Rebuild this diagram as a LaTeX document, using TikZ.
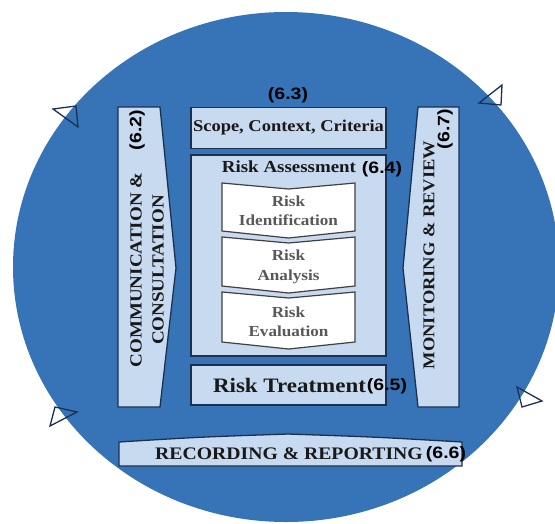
\documentclass[tikz,border=0pt]{standalone}
\usepackage{fontspec}
\newfontfamily\cam[FakeStretch=1.12]{Liberation Serif}
\newfontfamily\lab[FakeStretch=1.18]{Liberation Sans}
\definecolor{disc}{RGB}{54,116,183}
\definecolor{pale}{RGB}{199,218,240}
\definecolor{edge}{RGB}{28,48,80}
\definecolor{chevtext}{RGB}{88,88,88}
\tikzset{
  panel/.style={draw=edge, line width=1.3pt, fill=pale, inner sep=0pt},
  chev/.style={draw=black!75, line width=1.2pt, fill=white, line join=miter},
  serif/.style={font=\cam\bfseries\fontsize{16.5}{19}\selectfont, text=black!90, inner sep=0pt},
  tag/.style={font=\lab\bfseries\fontsize{16.5}{18}\selectfont, text=black, inner sep=0pt},
  chevlabel/.style={font=\cam\bfseries\fontsize{15.3}{19.5}\selectfont, text=chevtext, align=center, inner sep=0pt},
  marker/.style={draw=edge, line width=1.3pt, line join=miter}
}
\begin{document}
\begin{tikzpicture}[x=1pt,y=-1pt]
\useasboundingbox (0,0) rectangle (555,523);
\fill[white] (0,0) rectangle (555,523);
\begin{scope}
  \clip (0,0) rectangle (555,523);
  \fill[disc] (286,267) ellipse [x radius=273, y radius=255];
\end{scope}

% direction markers
\draw[marker] (53,109) -- (76,106) -- (78,127) -- cycle;
\draw[marker] (479,103) -- (502,85) -- (501,105) -- cycle;
\draw[marker] (517,387) -- (542,401) -- (522,407) -- cycle;
\draw[marker] (50,426) -- (55,407) -- (77,412) -- cycle;

% side bars
\draw[panel] (118,107) -- (160,107) -- (176,268) -- (160,407) -- (118,407) -- cycle;
\draw[panel] (418,107) -- (459,107) -- (459,407) -- (418,407) -- (403,268) -- cycle;
% recording bar
\draw[panel] (119,442) .. controls (200,437) .. (288,434) .. controls (376,437) .. (462,442)
  -- (462,466) -- (119,466) -- cycle;

% central boxes
\node[panel, minimum width=195, minimum height=41] (scope) at (288.5,128) {};
\node[panel, minimum width=195, minimum height=201] (assess) at (288.5,255.5) {};
\node[panel, minimum width=195, minimum height=40] (treat) at (288.5,385) {};

% chevrons
\draw[chev] (222,183) -- (288.5,189) -- (355,183) -- (355,231) -- (288.5,238) -- (222,231) -- cycle;
\draw[chev] (222,237) -- (288.5,243) -- (355,237) -- (355,286) -- (288.5,293) -- (222,286) -- cycle;
\draw[chev] (222,292) -- (288.5,298) -- (355,292) -- (355,342) -- (288.5,349) -- (222,342) -- cycle;
\node[chevlabel] (ident) at (288.5,211) {Risk\\Identification};
\node[chevlabel] (anal) at (288.5,267) {Risk\\Analysis};
\node[chevlabel] (eval) at (288.5,322) {Risk\\Evaluation};

% texts
\node[serif] (scopet) at (288.5,128) {Scope, Context, Criteria};
\node[serif, font=\cam\bfseries\fontsize{16.9}{19}\selectfont] (assesst) at (289,167) {Risk Assessment};
\node[serif, font=\cam\bfseries\fontsize{20.5}{23}\selectfont] (treatt) at (289.5,385) {Risk Treatment};
\node[serif, font=\cam\bfseries\fontsize{17.6}{20}\selectfont] (rect) at (289,454) {RECORDING \& REPORTING};
\node[serif, rotate=90, align=center, font=\cam\bfseries\fontsize{17}{22}\selectfont] (commt) at (147,270) {COMMUNICATION \&\\CONSULTATION};
\node[serif, rotate=90, font=\cam\bfseries\fontsize{16.5}{20}\selectfont] (mont) at (429,255) {MONITORING \& REVIEW};

% clause numbers
\node[tag] (n63) at (288,95) {(6.3)};
\node[tag] (n64) at (382,169) {(6.4)};
\node[tag] (n65) at (387,386) {(6.5)};
\node[tag] (n66) at (446,454) {(6.6)};
\node[tag, rotate=90] (n62) at (137,130) {(6.2)};
\node[tag, rotate=90] (n67) at (445,129) {(6.7)};
\end{tikzpicture}
\end{document}
